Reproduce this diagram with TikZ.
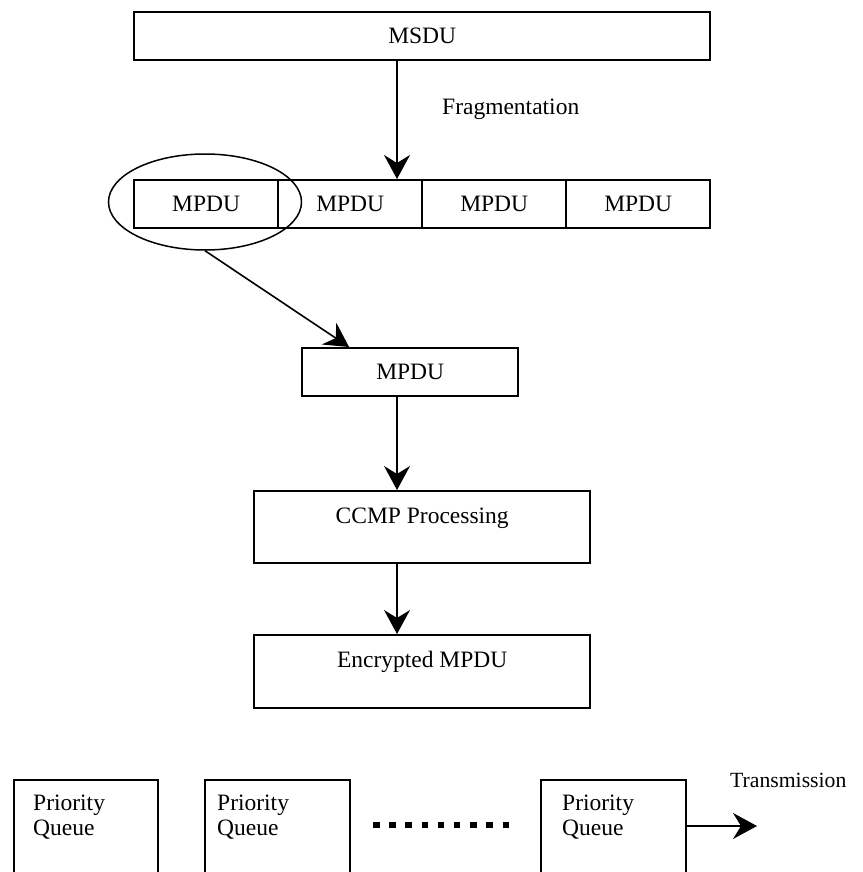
\documentclass[tikz,border=0pt]{standalone}
\usepackage{fontspec}
\setmainfont{Liberation Serif}
\usetikzlibrary{arrows.meta,calc,shapes.geometric}
\begin{document}
\begin{tikzpicture}[x=1pt,y=-1pt,
  box/.style={draw, line width=2.4pt, rectangle, inner sep=0pt, anchor=north west,
    font=\fontsize{23.5}{25}\selectfont},
  lbl/.style={font=\fontsize{23.5}{25}\selectfont, inner sep=0pt},
  arr/.style={line width=1.8pt, -{Stealth[length=24pt,width=26pt,inset=8pt]}},
  dotline/.style={line width=6.5pt, dash pattern=on 6.5pt off 9.69pt},
]
\useasboundingbox (0,0) rectangle (862,872);

% MSDU and its fragments
\node[box, minimum width=576, minimum height=48] (msdu) at (133,11) {MSDU};
\node[box, minimum width=144, minimum height=48] (m1) at (133,179) {MPDU};
\node[box, minimum width=144, minimum height=48] (m2) at (277,179) {MPDU};
\node[box, minimum width=144, minimum height=48] (m3) at (421,179) {MPDU};
\node[box, minimum width=144, minimum height=48] (m4) at (565,179) {MPDU};
\node[draw, ellipse, line width=1.5pt, minimum width=193, minimum height=96, inner sep=0pt]
  (sel) at (205,202) {};
\node[lbl, anchor=base west] (frag) at (442,115) {Fragmentation};

% single fragment through CCMP
\node[box, minimum width=216, minimum height=48] (mpdu) at (301,347) {MPDU};
\node[box, minimum width=336, minimum height=72] (ccmp) at (253,490) {};
\path (ccmp.north) ++(0,33) node[lbl, anchor=base] (ccmpt) {CCMP Processing};
\node[box, minimum width=336, minimum height=73] (enc) at (253,634) {};
\path (enc.north) ++(0,33) node[lbl, anchor=base] (enct) {Encrypted MPDU};

% vertical flow
\coordinate (fx) at (397,0);
\draw[arr] (msdu.south -| fx) -- (m2.north -| fx);
\draw[arr, line width=1.6pt] (sel.south) -- ($(mpdu.north west)!0.22!(mpdu.north east)$);
\draw[arr] (mpdu.south -| fx) -- (ccmp.north -| fx);
\draw[arr] (ccmp.south -| fx) -- (enc.north -| fx);

% priority queues
\node[box, minimum width=144, minimum height=100] (q1) at (13,779) {};
\node[box, minimum width=145, minimum height=100] (q2) at (204,779) {};
\node[box, minimum width=145, minimum height=100] (q3) at (540,779) {};
\node[lbl, anchor=north west, align=left] (q1t) at (33,795) {Priority\\Queue};
\node[lbl, anchor=north west, align=left] (q2t) at (217,795) {Priority\\Queue};
\node[lbl, anchor=north west, align=left] (q3t) at (562,795) {Priority\\Queue};
\coordinate (d1) at (373,825);
\coordinate (d2) at (509,825);
\draw[dotline] (d1) -- (d2);

% transmission
\coordinate (txend) at (757,826);
\draw[arr, line width=2pt] (q3.east |- txend) -- (txend);
\node[lbl, font=\fontsize{21.7}{24}\selectfont, anchor=base west] (tx) at (730,787) {Transmission};
\end{tikzpicture}
\end{document}
